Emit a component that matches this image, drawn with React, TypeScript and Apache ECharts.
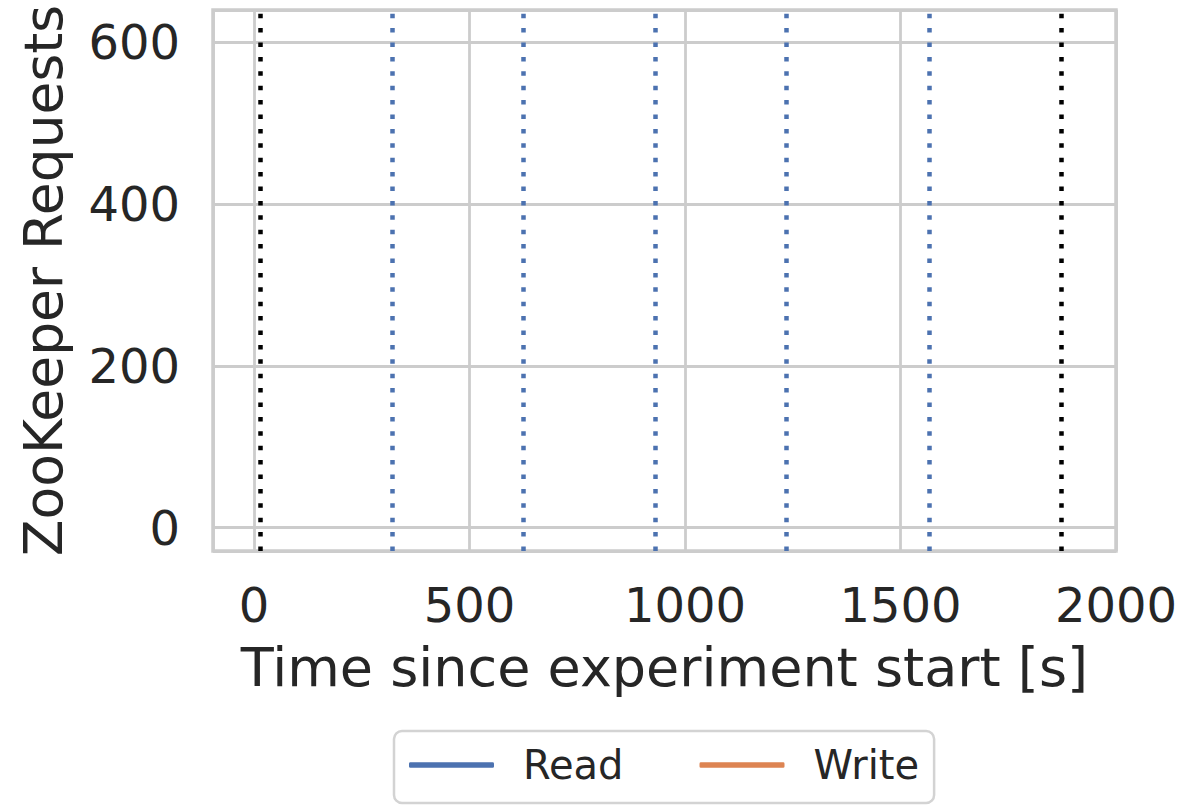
import React, { useEffect, useRef } from "react";
import * as echarts from "echarts";

// ---- data ----
const seriesNames = ["Read", "Write"];
const readValues: [number, number][] = [];
const writeValues: [number, number][] = [];
const boundaryMarks = [15, 1873]; // black dotted lines (experiment start / end)
const phaseMarks = [320, 625, 930, 1235, 1567]; // blue dotted lines
const xRange = [-95, 2000];
const yRange = [-29, 640];
const xTitle = "Time since experiment start [s]";
const yTitle = "ZooKeeper Requests";

const FONT = "DejaVu Sans";
const TEXT = "#262626";
const GRID = "#cccccc";
const BLUE = "#4c72b0";
const ORANGE = "#dd8452";

export default function App() {
  const ref = useRef<HTMLDivElement>(null);
  useEffect(() => {
    if (!ref.current) return;
    const chart = echarts.init(ref.current, undefined, { renderer: "svg" });
    const markData = [
      ...boundaryMarks.map((v) => ({ xAxis: v, lineStyle: { color: "#000000" } })),
      ...phaseMarks.map((v) => ({ xAxis: v, lineStyle: { color: BLUE } })),
    ];
    chart.setOption({
      animation: false,
      backgroundColor: "#ffffff",
      textStyle: { fontFamily: FONT, color: TEXT },
      grid: {
        left: 213,
        top: 10,
        right: 88,
        bottom: 257,
        show: true,
        borderColor: GRID,
        borderWidth: 3.5,
        outerBoundsMode: "none",
      },
      xAxis: {
        type: "value",
        min: xRange[0],
        max: xRange[1],
        splitNumber: 4,
        minInterval: 500,
        maxInterval: 500,
        name: xTitle,
        nameLocation: "middle",
        nameGap: 86,
        nameTextStyle: { fontSize: 54, color: TEXT, fontFamily: FONT, lineHeight: 60 },
        axisLine: { show: false },
        axisTick: { show: false },
        axisLabel: {
          fontSize: 48,
          color: TEXT,
          fontFamily: FONT,
          margin: 30,
          showMinLabel: false,
          showMaxLabel: true,
          formatter: (v: number) => String(v),
        },
        splitLine: { show: true, lineStyle: { color: GRID, width: 2.8 } },
      },
      yAxis: {
        type: "value",
        min: yRange[0],
        max: yRange[1],
        splitNumber: 3,
        minInterval: 200,
        maxInterval: 200,
        name: yTitle,
        nameLocation: "middle",
        nameGap: 140,
        nameRotate: 90,
        nameTextStyle: { fontSize: 53.5, color: TEXT, fontFamily: FONT, lineHeight: 60 },
        axisLine: { show: false },
        axisTick: { show: false },
        axisLabel: {
          fontSize: 48,
          color: TEXT,
          fontFamily: FONT,
          margin: 33,
          showMinLabel: false,
          showMaxLabel: false,
          formatter: (v: number) => String(v),
        },
        splitLine: { show: true, lineStyle: { color: GRID, width: 2.8 } },
      },
      legend: {
        data: seriesNames,
        left: 394,
        top: 731,
        orient: "horizontal",
        icon: "roundRect",
        itemWidth: 85,
        itemHeight: 5.5,
        itemGap: 76,
        padding: [12, 15, 16, 15],
        borderColor: "#d3d3d3",
        borderWidth: 2.5,
        borderRadius: 8,
        backgroundColor: "#ffffff",
        textStyle: {
          fontSize: 40,
          color: TEXT,
          fontFamily: FONT,
          lineHeight: 44,
          padding: [0, 0, 0, 24],
        },
      },
      series: [
        {
          name: seriesNames[0],
          type: "line",
          data: readValues,
          symbol: "none",
          color: BLUE,
          lineStyle: { width: 4, color: BLUE },
        },
        {
          name: seriesNames[1],
          type: "line",
          data: writeValues,
          symbol: "none",
          color: ORANGE,
          lineStyle: { width: 4, color: ORANGE },
        },
        {
          name: "markers",
          type: "line",
          data: [],
          symbol: "none",
          silent: true,
          markLine: {
            silent: true,
            symbol: ["none", "none"],
            label: { show: false },
            lineStyle: { width: 4.5, type: [4.5, 9.9], cap: "butt" },
            emphasis: { disabled: true },
            data: markData,
          },
        },
      ],
    });
    return () => chart.dispose();
  }, []);
  return (
    <div
      ref={ref}
      style={{ position: "fixed", left: 0, top: 0, width: 1204, height: 808, background: "#fff" }}
    />
  );
}
